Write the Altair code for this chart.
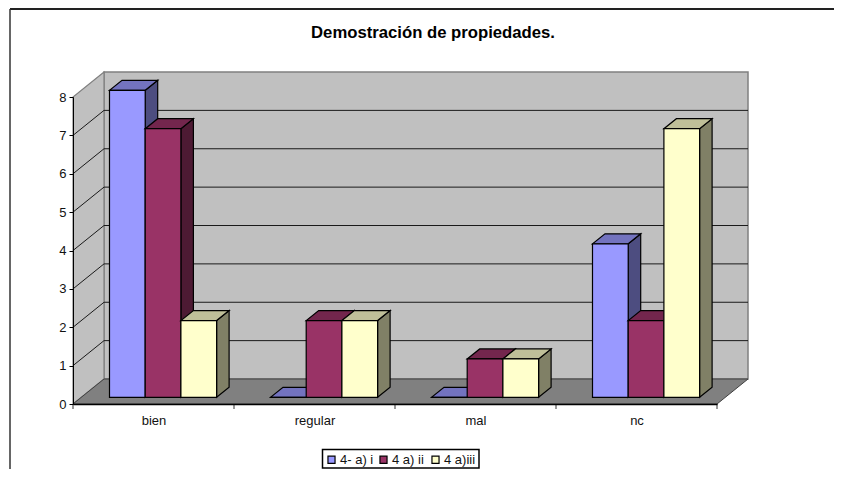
import altair as alt
import pandas as pd

categories = ["bien", "regular", "mal", "nc"]
series_names = ["4- a) i", "4 a) ii", "4 a)iii"]
values_a = [8, 0, 0, 4]
values_b = [7, 2, 1, 2]
values_c = [2, 2, 1, 7]
all_values = [values_a, values_b, values_c]
front_colors = ["#9999FF", "#993366", "#FFFFCC"]
top_colors = ["#7373BF", "#73264D", "#BFBF99"]
side_colors = ["#4D4D80", "#4D1A33", "#808066"]
title_text = "Demostración de propiedades."

FONT = "Liberation Sans"
PX_X = 161.0
PX_Y = 38.375
W_DX = 31 / PX_X
W_DY = 25 / PX_Y
B_DX = 12.5 / PX_X
B_DY = 10 / PX_Y
BASE = 6.7 / PX_Y
START = 36.5 / PX_X
BW = 35.7 / PX_X
VMAX = 8
N = len(categories)

X = alt.X("x:Q", scale=alt.Scale(domain=[0, N], nice=False, zero=False),
          axis=alt.Axis(values=[i + 0.5 for i in range(N)], title=None, ticks=False,
                        labelExpr="['bien','regular','mal','nc'][floor(datum.value)]",
                        labelFont=FONT, labelFontSize=13, labelColor="#111111", labelPadding=10,
                        labelAngle=0, labelFlush=False, labelOverlap=False,
                        domainColor="black", domainWidth=1.5, grid=False, zindex=1))
Y = alt.Y("y:Q", scale=alt.Scale(domain=[0, VMAX], nice=False, zero=False),
          axis=alt.Axis(values=list(range(VMAX + 1)), title=None, tickSize=4, tickColor="black",
                        domainColor="black", domainWidth=1, labelFont=FONT, labelFontSize=13,
                        labelColor="#111111", labelPadding=3, grid=False, zindex=1))
X2 = alt.X2("x2:Q")
Y2 = alt.Y2("y2:Q")

back = alt.Chart(pd.DataFrame([{"x": W_DX, "x2": N + W_DX, "y": W_DY, "y2": VMAX + W_DY}])).mark_rect(
    fill="#C0C0C0", stroke="#808080", strokeWidth=1.5).encode(x=X, x2=X2, y=Y, y2=Y2)
left_wall = alt.Chart(pd.DataFrame([
    {"x": 0, "y": 0, "y2": VMAX},
    {"x": W_DX, "y": W_DY, "y2": VMAX + W_DY},
])).mark_area(fill="#C0C0C0", stroke="#808080", strokeWidth=1.2, opacity=1).encode(x=X, y=Y, y2=Y2)
floor = alt.Chart(pd.DataFrame([
    {"x": 0, "y": 0, "y2": 0},
    {"x": W_DX, "y": 0, "y2": W_DY},
    {"x": N, "y": 0, "y2": W_DY},
    {"x": N + W_DX, "y": W_DY, "y2": W_DY},
])).mark_area(fill="#808080", stroke="#404040", strokeWidth=1, opacity=1).encode(x=X, y=Y, y2=Y2)

grid_vals = list(range(1, VMAX))
grid_back = alt.Chart(pd.DataFrame(
    [{"x": W_DX, "x2": N + W_DX, "y": v + W_DY} for v in grid_vals])).mark_rule(
    color="#1A1A1A", strokeWidth=1).encode(x=X, x2=X2, y=Y)
grid_left = alt.Chart(pd.DataFrame(
    [{"x": 0, "x2": W_DX, "y": v, "y2": v + W_DY} for v in grid_vals])).mark_rule(
    color="#1A1A1A", strokeWidth=1).encode(x=X, x2=X2, y=Y, y2=Y2)
cat_ticks = alt.Chart(pd.DataFrame({"x": list(range(N + 1))})).mark_rule(
    color="#333333", strokeWidth=1).encode(x=X, y=alt.value(307), y2=alt.value(312))

legend_box = alt.Chart(pd.DataFrame({"x": [0]})).mark_rect(
    fill="white", stroke="black", strokeWidth=1.5).encode(
    x=alt.value(249.5), x2=alt.value(406), y=alt.value(352.5), y2=alt.value(371))

layers = [back, left_wall, floor, grid_back, grid_left, cat_ticks, legend_box]

for s, name in enumerate(series_names):
    side_rows, top_rows, front_rows = [], [], []
    for c, cat in enumerate(categories):
        v = all_values[s][c]
        x0 = c + START + s * BW
        x1 = x0 + BW
        y0 = BASE
        yt = v + BASE
        side_rows += [
            {"cat": cat, "x": x1, "y": y0, "y2": yt},
            {"cat": cat, "x": x1 + B_DX, "y": y0 + B_DY, "y2": yt + B_DY},
        ]
        top_rows += [
            {"cat": cat, "x": x0, "y": yt, "y2": yt},
            {"cat": cat, "x": x0 + B_DX, "y": yt, "y2": yt + B_DY},
            {"cat": cat, "x": x1, "y": yt, "y2": yt + B_DY},
            {"cat": cat, "x": x1 + B_DX, "y": yt + B_DY, "y2": yt + B_DY},
        ]
        front_rows.append({"cat": cat, "serie": name, "x": x0, "x2": x1, "y": y0, "y2": yt})
    layers.append(alt.Chart(pd.DataFrame(side_rows)).mark_area(
        fill=side_colors[s], stroke="black", strokeWidth=1.2, opacity=1).encode(
        x=X, y=Y, y2=Y2, detail="cat:N"))
    layers.append(alt.Chart(pd.DataFrame(top_rows)).mark_area(
        fill=top_colors[s], stroke="black", strokeWidth=1.2, opacity=1).encode(
        x=X, y=Y, y2=Y2, detail="cat:N"))
    layers.append(alt.Chart(pd.DataFrame(front_rows)).mark_bar(
        stroke="black", strokeWidth=1.2, opacity=1).encode(
        x=X, x2=X2, y=Y, y2=Y2,
        color=alt.Color("serie:N",
                        scale=alt.Scale(domain=series_names, range=front_colors),
                        legend=alt.Legend(orient="none", legendX=252, legendY=356, title=None,
                                          direction="horizontal", columns=3, gridAlign="all",
                                          padding=0, columnPadding=3,
                                          symbolType="square", symbolSize=50,
                                          symbolStrokeColor="black", symbolStrokeWidth=1.2,
                                          labelFont=FONT, labelFontSize=13, labelColor="#111111",
                                          labelOffset=2))))

border_top = alt.Chart(pd.DataFrame({"x": [0]})).mark_rule(
    color="#222222", strokeWidth=2).encode(x=alt.value(-63), x2=alt.value(761), y=alt.value(-88))
border_left = alt.Chart(pd.DataFrame({"x": [0]})).mark_rule(
    color="#333333", strokeWidth=1.5).encode(x=alt.value(-63), y=alt.value(-88), y2=alt.value(372))
layers += [border_top, border_left]

chart = alt.layer(*layers).properties(
    width=644, height=307,
    padding={"left": 65, "top": 89, "right": 117, "bottom": 65},
    autosize=alt.AutoSizeParams(type="none"),
    background="white",
    title=alt.TitleParams(title_text, font=FONT, fontSize=16.7, fontWeight="bold", color="black",
                          anchor="middle", frame="group", dx=38, offset=-47, baseline="alphabetic"),
).configure_view(stroke=None)

chart.save("out.html", embed_options={"renderer": "svg", "actions": False})
